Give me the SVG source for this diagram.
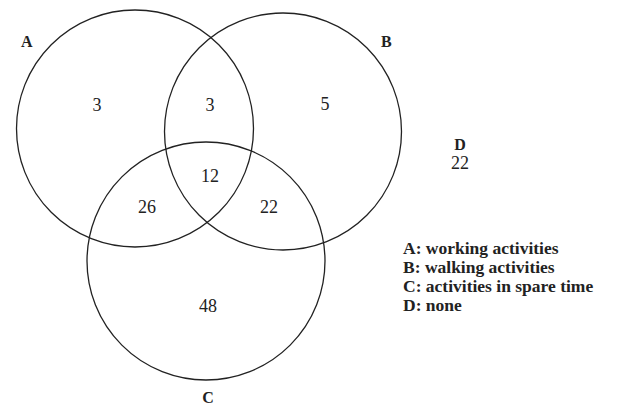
<svg xmlns="http://www.w3.org/2000/svg" width="638" height="406" viewBox="0 0 638 406">
<style>
.c{fill:none;stroke:#222;stroke-width:1.3}
.n{font-family:"Liberation Serif","Times New Roman",serif;font-size:18px;fill:#222;text-anchor:middle}
.b{font-family:"Liberation Serif","Times New Roman",serif;font-size:16px;font-weight:bold;fill:#222}
.l{font-family:"Liberation Serif","Times New Roman",serif;font-size:17.5px;font-weight:bold;fill:#222}
</style>
<rect width="638" height="406" fill="#fff"/>
<g id="A"><circle class="c" cx="135" cy="128.5" r="118.5"/><text class="b" x="21" y="47">A</text></g>
<g id="B"><circle class="c" cx="283" cy="131.5" r="118.5"/><text class="b" x="381" y="47">B</text></g>
<g id="C"><circle class="c" cx="206" cy="261" r="119"/><text class="b" x="208" y="403" text-anchor="middle">C</text></g>
<g id="D"><text class="b" x="460" y="150" text-anchor="middle">D</text><text class="n" x="460" y="169">22</text></g>
<g id="regions">
<text class="n" x="97" y="111">3</text>
<text class="n" x="210" y="111">3</text>
<text class="n" x="325" y="110">5</text>
<text class="n" x="210" y="182">12</text>
<text class="n" x="147" y="213">26</text>
<text class="n" x="269" y="213">22</text>
<text class="n" x="208" y="312">48</text>
</g>
<g id="legend">
<text class="l" x="403" y="254">A: working activities</text>
<text class="l" x="403" y="273">B: walking activities</text>
<text class="l" x="403" y="292">C: activities in spare time</text>
<text class="l" x="403" y="311">D: none</text>
</g>
</svg>
